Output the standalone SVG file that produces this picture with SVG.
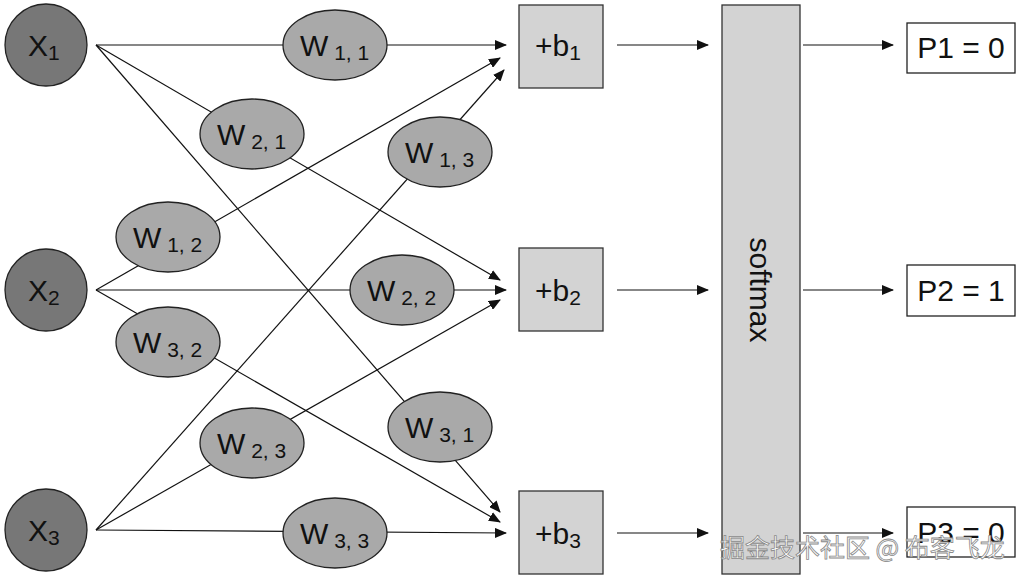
<svg xmlns="http://www.w3.org/2000/svg" width="1024" height="580" viewBox="0 0 1024 580">
<style>
text{font-family:"Liberation Sans",Arial,sans-serif;fill:#111}
.x{fill:#777;stroke:#222;stroke-width:1.3}
.w{fill:#a9a9a9;stroke:#222;stroke-width:1.3}
.b{fill:#d3d3d3;stroke:#333;stroke-width:1.3}
.p{fill:#fff;stroke:#222;stroke-width:1.3}
.l{stroke:#111;stroke-width:1.2;fill:none;marker-end:url(#a)}
.t{font-size:30px}
.s{font-size:21px}
</style>
<defs><marker id="a" markerWidth="12" markerHeight="10" refX="11" refY="5" orient="auto" markerUnits="userSpaceOnUse"><path d="M0,0L12,5L0,10z" fill="#111"/></marker></defs>
<rect width="1024" height="580" fill="#fff"/>
<g id="connectors">
<line class="l" x1="96" y1="45" x2="506" y2="45"/>
<line class="l" x1="96" y1="45" x2="500" y2="280"/>
<line class="l" x1="96" y1="45" x2="500" y2="512"/>
<line class="l" x1="96" y1="290" x2="500" y2="58"/>
<line class="l" x1="96" y1="290" x2="506" y2="290"/>
<line class="l" x1="96" y1="290" x2="500" y2="522"/>
<line class="l" x1="96" y1="530" x2="504" y2="70"/>
<line class="l" x1="96" y1="530" x2="500" y2="300"/>
<line class="l" x1="96" y1="530" x2="506" y2="533"/>
<line class="l" x1="617" y1="45" x2="708" y2="45"/>
<line class="l" x1="617" y1="290" x2="708" y2="290"/>
<line class="l" x1="617" y1="533" x2="708" y2="533"/>
<line class="l" x1="803" y1="45" x2="893" y2="45"/>
<line class="l" x1="803" y1="290" x2="893" y2="290"/>
<line class="l" x1="803" y1="533" x2="893" y2="533"/>
</g>
<g id="x1"><circle class="x" cx="46" cy="45" r="41"/><text class="t" x="28" y="56">X<tspan class="s" dy="4">1</tspan></text></g>
<g id="x2"><circle class="x" cx="46" cy="290" r="41"/><text class="t" x="28" y="301">X<tspan class="s" dy="4">2</tspan></text></g>
<g id="x3"><circle class="x" cx="46" cy="530" r="41"/><text class="t" x="28" y="541">X<tspan class="s" dy="4">3</tspan></text></g>
<g id="w11"><ellipse class="w" cx="335" cy="45" rx="52" ry="35"/><text class="t" x="300" y="56">W<tspan class="s" dy="4"> 1, 1</tspan></text></g>
<g id="w21"><ellipse class="w" cx="252" cy="134" rx="52" ry="35"/><text class="t" x="217" y="145">W<tspan class="s" dy="4"> 2, 1</tspan></text></g>
<g id="w13"><ellipse class="w" cx="440" cy="152" rx="52" ry="35"/><text class="t" x="405" y="163">W<tspan class="s" dy="4"> 1, 3</tspan></text></g>
<g id="w12"><ellipse class="w" cx="168" cy="237" rx="52" ry="35"/><text class="t" x="133" y="248">W<tspan class="s" dy="4"> 1, 2</tspan></text></g>
<g id="w22"><ellipse class="w" cx="402" cy="290" rx="52" ry="35"/><text class="t" x="367" y="301">W<tspan class="s" dy="4"> 2, 2</tspan></text></g>
<g id="w32"><ellipse class="w" cx="168" cy="342" rx="52" ry="35"/><text class="t" x="133" y="353">W<tspan class="s" dy="4"> 3, 2</tspan></text></g>
<g id="w31"><ellipse class="w" cx="440" cy="427" rx="52" ry="35"/><text class="t" x="405" y="438">W<tspan class="s" dy="4"> 3, 1</tspan></text></g>
<g id="w23"><ellipse class="w" cx="252" cy="443" rx="52" ry="35"/><text class="t" x="217" y="454">W<tspan class="s" dy="4"> 2, 3</tspan></text></g>
<g id="w33"><ellipse class="w" cx="335" cy="533" rx="52" ry="35"/><text class="t" x="300" y="544">W<tspan class="s" dy="4"> 3, 3</tspan></text></g>
<g id="b1"><rect class="b" x="519" y="5" width="84" height="83"/><text class="t" x="535" y="56">+b<tspan class="s" dy="4">1</tspan></text></g>
<g id="b2"><rect class="b" x="519" y="248" width="84" height="83"/><text class="t" x="535" y="301">+b<tspan class="s" dy="4">2</tspan></text></g>
<g id="b3"><rect class="b" x="519" y="491" width="84" height="83"/><text class="t" x="535" y="544">+b<tspan class="s" dy="4">3</tspan></text></g>
<g id="softmax"><rect class="b" x="722" y="5" width="78" height="569"/><text class="t" transform="translate(750,290) rotate(90)" text-anchor="middle">softmax</text></g>
<g id="p1"><rect class="p" x="907" y="23" width="108" height="50"/><text class="t" x="961" y="58" text-anchor="middle">P1 = 0</text></g>
<g id="p2"><rect class="p" x="907" y="265" width="108" height="51"/><text class="t" x="961" y="301" text-anchor="middle">P2 = 1</text></g>
<g id="p3"><rect class="p" x="907" y="507" width="108" height="50"/><text class="t" x="961" y="543" text-anchor="middle">P3 = 0</text></g>
<text x="720" y="557" style="font-family:'Noto Sans CJK SC',sans-serif;font-size:25px;fill:#fff;stroke:#888;stroke-width:0.8">掘金技术社区 @ 布客飞龙</text>
</svg>
